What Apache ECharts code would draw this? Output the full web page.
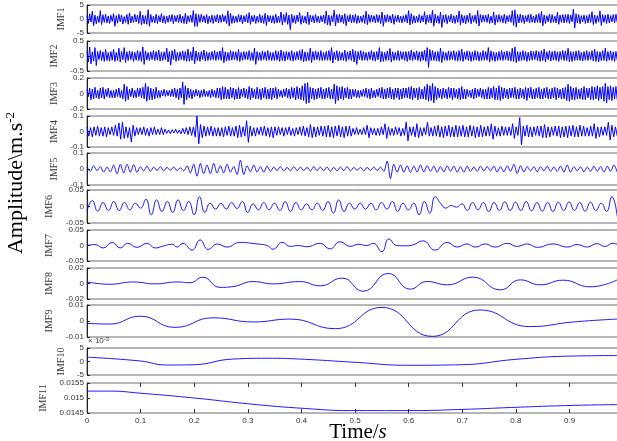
<!DOCTYPE html>
<html>
<head>
<meta charset="utf-8">
<script src="https://cdn.jsdelivr.net/npm/echarts@6/dist/echarts.min.js"></script>
<style>
html, body { margin: 0; padding: 0; background: #fff; }
#chart { width: 617px; height: 441px; }
</style>
</head>
<body>
<div id="chart"></div>
<script>
// ---- data ----
var imfNames = ['IMF1','IMF2','IMF3','IMF4','IMF5','IMF6','IMF7','IMF8','IMF9','IMF10','IMF11'];
var yRanges = [[-5,5],[-0.5,0.5],[-0.2,0.2],[-0.1,0.1],[-0.1,0.1],[-0.05,0.05],[-0.05,0.05],[-0.02,0.02],[-0.01,0.01],[-5,5],[0.0145,0.0155]];
var yTickVals = [[-5,0,5],[-0.5,0,0.5],[-0.2,0,0.2],[-0.1,0,0.1],[-0.1,0,0.1],[-0.05,0,0.05],[-0.05,0,0.05],[-0.02,0,0.02],[-0.01,0,0.01],[-5,0,5],[0.0145,0.015,0.0155]];
var xTicks = [0,0.1,0.2,0.3,0.4,0.5,0.6,0.7,0.8,0.9];
var signalEnd = 0.989;   // last sample seen at the right edge

// dense components, evenly sampled from 0 to signalEnd
var imf1 = [
 1.2,-1.6,1.8,-1.1,2.8,-2.4,1.4,-1.7,1.0,-1.3,3.0,-2.0,1.5,-1.2,1.7,-1.4,1.1,-1.6,1.3,-0.9,
 1.9,-2.6,1.2,-1.5,1.7,-1.0,1.4,-1.8,0.9,-1.2,1.6,-1.9,2.2,-1.4,1.0,-1.2,1.7,-1.1,1.4,-1.6,
 2.7,-2.1,1.4,-1.7,1.2,-1.9,3.3,-2.6,1.6,-1.2,1.0,-1.4,1.7,-1.6,1.2,-1.0,1.9,-1.4,1.2,-1.6,
 1.0,-1.2,1.4,-0.9,1.6,-1.7,1.2,-1.0,1.4,-1.2,1.7,-1.4,1.0,-1.6,2.0,-1.7,1.2,-1.0,1.4,-1.2,
 3.0,-2.7,1.9,-2.6,1.6,-1.2,1.7,-1.0,1.2,-1.4,1.6,-1.7,1.0,-1.2,1.4,-1.6,1.2,-1.0,1.6,-1.4,
 1.4,-1.2,1.7,-1.0,1.2,-1.6,2.9,-2.5,2.0,-1.6,1.2,-1.4,1.0,-1.2,1.6,-1.0,1.4,-1.7,1.2,-1.0,
 1.6,-1.4,2.3,-1.9,1.2,-1.0,1.4,-1.6,1.0,-1.2,1.7,-1.4,1.2,-1.6,2.0,-2.3,1.4,-1.0,1.2,-1.4,
 1.2,-1.6,1.7,-1.4,1.0,-1.2,2.5,-2.1,1.6,-1.2,2.3,-1.9,1.4,-3.8,1.7,-1.4,1.2,-1.6,1.4,-1.0,
 2.3,-1.9,1.2,-1.4,1.0,-1.6,2.5,-2.0,1.4,-1.0,1.2,-1.4,1.6,-1.2,1.0,-1.4,1.2,-1.0,1.4,-1.6,
 2.9,-2.1,1.4,-2.3,1.2,-1.0,3.2,-2.5,1.6,-1.4,1.7,-1.2,1.4,-1.6,1.9,-2.4,1.2,-1.0,1.6,-1.4,
 1.4,-1.2,1.7,-1.6,1.2,-1.4,1.0,-1.2,1.4,-1.6,2.8,-2.0,1.6,-1.2,1.4,-1.0,1.2,-1.4,1.6,-1.2,
 1.4,-1.6,2.5,-2.6,1.4,-1.2,1.6,-1.0,1.2,-1.4,1.7,-1.9,1.2,-1.0,1.4,-1.2,1.0,-1.4,1.2,-1.0,
 1.6,-1.4,3.0,-2.1,1.9,-1.6,1.2,-1.4,1.0,-1.2,1.6,-1.4,1.2,-1.0,2.6,-1.9,1.4,-1.2,1.6,-1.4,
 3.2,-2.6,1.7,-1.4,1.2,-1.6,2.4,-3.0,1.4,-1.2,1.6,-1.7,1.2,-1.0,1.7,-1.4,1.2,-1.6,1.4,-1.2,
 2.9,-2.1,1.6,-1.4,1.2,-1.7,1.4,-1.2,2.1,-1.7,1.2,-1.0,1.4,-1.6,3.0,-2.5,1.6,-1.2,1.4,-1.0,
 1.4,-1.2,1.7,-1.6,1.0,-1.4,2.5,-2.1,1.4,-1.2,1.6,-1.0,1.2,-1.4,1.7,-1.6,1.2,-1.0,1.4,-1.2,
 3.0,-2.3,3.3,-2.9,1.6,-1.4,1.7,-1.2,1.4,-1.6,1.2,-1.0,1.6,-1.4,1.7,-1.2,1.0,-1.4,1.6,-1.2,
 1.9,-1.4,2.8,-2.4,1.4,-1.6,1.2,-1.0,1.7,-1.4,1.6,-1.2,1.0,-1.4,2.5,-1.9,1.4,-1.2,1.6,-1.4,
 1.6,-1.2,1.7,-1.6,1.4,-1.0,3.5,-3.2,1.9,-1.4,1.6,-1.7,1.2,-1.0,1.4,-1.6,1.2,-1.4,1.7,-1.2,
 2.6,-2.0,1.4,-1.6,1.2,-1.0,2.9,-2.3,1.6,-1.2,1.4,-1.6,1.7,-1.4,1.2,-1.0,1.6,-1.4,1.7,-1.2
];
var imf2 = [
 0.15,-0.2,0.3,-0.26,0.14,-0.17,0.28,-0.32,0.15,-0.12,0.18,-0.15,0.14,-0.18,0.22,-0.15,0.12,-0.17,0.15,-0.14,
 0.22,-0.18,0.12,-0.15,0.26,-0.2,0.15,-0.12,0.28,-0.22,0.14,-0.15,0.17,-0.12,0.15,-0.18,0.12,-0.14,0.18,-0.15,
 0.15,-0.18,0.3,-0.28,0.17,-0.14,0.12,-0.15,0.14,-0.12,0.18,-0.15,0.15,-0.14,0.2,-0.17,0.12,-0.15,0.14,-0.12,
 0.26,-0.2,0.15,-0.3,0.18,-0.12,0.22,-0.18,0.12,-0.15,0.14,-0.12,0.17,-0.15,0.15,-0.18,0.23,-0.17,0.14,-0.15,
 0.3,-0.26,0.17,-0.15,0.12,-0.18,0.15,-0.12,0.2,-0.17,0.14,-0.15,0.12,-0.14,0.15,-0.12,0.18,-0.15,0.14,-0.12,
 0.17,-0.15,0.28,-0.23,0.14,-0.17,0.12,-0.15,0.18,-0.14,0.15,-0.12,0.14,-0.15,0.22,-0.18,0.12,-0.14,0.15,-0.12,
 0.14,-0.12,0.18,-0.15,0.12,-0.15,0.26,-0.28,0.15,-0.14,0.12,-0.15,0.17,-0.12,0.14,-0.15,0.18,-0.14,0.12,-0.15,
 0.12,-0.15,0.18,-0.14,0.15,-0.18,0.2,-0.15,0.14,-0.17,0.15,-0.12,0.14,-0.15,0.18,-0.17,0.12,-0.14,0.15,-0.12,
 0.18,-0.15,0.22,-0.2,0.14,-0.17,0.12,-0.15,0.26,-0.22,0.15,-0.14,0.17,-0.12,0.14,-0.15,0.18,-0.15,0.12,-0.14,
 0.15,-0.14,0.18,-0.15,0.28,-0.23,0.14,-0.12,0.18,-0.17,0.15,-0.14,0.12,-0.15,0.2,-0.18,0.14,-0.12,0.17,-0.15,
 0.22,-0.2,0.17,-0.28,0.15,-0.12,0.18,-0.15,0.15,-0.14,0.12,-0.15,0.14,-0.12,0.18,-0.15,0.14,-0.17,0.15,-0.12,
 0.28,-0.2,0.15,-0.18,0.12,-0.15,0.17,-0.14,0.25,-0.2,0.14,-0.15,0.12,-0.14,0.18,-0.15,0.15,-0.12,0.14,-0.15,
 0.15,-0.18,0.15,-0.14,0.2,-0.15,0.14,-0.12,0.17,-0.15,0.14,-0.18,0.15,-0.14,0.2,-0.18,0.28,-0.38,0.22,-0.15,
 0.18,-0.15,0.14,-0.17,0.15,-0.18,0.26,-0.22,0.15,-0.14,0.12,-0.15,0.17,-0.14,0.15,-0.12,0.18,-0.15,0.14,-0.17,
 0.18,-0.15,0.23,-0.18,0.14,-0.12,0.17,-0.15,0.15,-0.18,0.14,-0.15,0.18,-0.14,0.15,-0.17,0.12,-0.15,0.18,-0.14,
 0.15,-0.14,0.28,-0.2,0.17,-0.15,0.14,-0.18,0.12,-0.15,0.15,-0.14,0.18,-0.15,0.14,-0.12,0.17,-0.15,0.14,-0.17,
 0.26,-0.18,0.3,-0.22,0.15,-0.17,0.14,-0.15,0.18,-0.14,0.15,-0.18,0.12,-0.15,0.17,-0.14,0.15,-0.12,0.18,-0.15,
 0.15,-0.18,0.18,-0.15,0.23,-0.2,0.14,-0.12,0.18,-0.17,0.15,-0.14,0.17,-0.15,0.14,-0.18,0.15,-0.12,0.18,-0.15,
 0.17,-0.15,0.26,-0.2,0.15,-0.18,0.14,-0.15,0.17,-0.14,0.18,-0.15,0.12,-0.17,0.15,-0.14,0.18,-0.15,0.14,-0.12,
 0.18,-0.17,0.23,-0.18,0.15,-0.2,0.14,-0.15,0.18,-0.15,0.26,-0.18,0.15,-0.14,0.17,-0.15,0.14,-0.18,0.15,-0.14
];
var imf3 = [
 0.055,-0.04,0.07,-0.08,0.055,-0.07,0.08,-0.055,0.04,-0.07,0.07,-0.055,0.08,-0.07,0.055,-0.04,0.07,-0.055,0.04,-0.055,
 0.04,-0.055,0.055,-0.04,0.07,-0.055,0.04,-0.07,0.12,-0.1,0.09,-0.08,0.055,-0.04,0.07,-0.055,0.04,-0.055,0.07,-0.04,
 0.07,-0.055,0.08,-0.07,0.13,-0.1,0.09,-0.08,0.07,-0.08,0.055,-0.07,0.08,-0.055,0.04,-0.055,0.04,-0.03,0.055,-0.04,
 0.04,-0.03,0.04,-0.04,0.055,-0.04,0.07,-0.055,0.055,-0.08,0.07,-0.055,0.15,-0.14,0.1,-0.08,0.07,-0.055,0.055,-0.07,
 0.04,-0.04,0.055,-0.03,0.04,-0.055,0.04,-0.04,0.055,-0.04,0.03,-0.04,0.04,-0.055,0.055,-0.04,0.04,-0.055,0.07,-0.055,
 0.07,-0.08,0.09,-0.07,0.08,-0.07,0.055,-0.07,0.08,-0.055,0.07,-0.08,0.055,-0.07,0.08,-0.07,0.055,-0.04,0.07,-0.055,
 0.055,-0.07,0.09,-0.08,0.07,-0.055,0.055,-0.07,0.08,-0.07,0.055,-0.08,0.07,-0.055,0.08,-0.07,0.055,-0.07,0.07,-0.08,
 0.07,-0.055,0.08,-0.07,0.055,-0.04,0.04,-0.055,0.055,-0.04,0.07,-0.055,0.055,-0.07,0.08,-0.055,0.07,-0.08,0.09,-0.07,
 0.07,-0.08,0.1,-0.09,0.13,-0.13,0.14,-0.12,0.08,-0.07,0.07,-0.08,0.055,-0.07,0.07,-0.055,0.08,-0.07,0.055,-0.07,
 0.07,-0.055,0.08,-0.07,0.055,-0.07,0.12,-0.13,0.1,-0.09,0.08,-0.07,0.09,-0.08,0.07,-0.055,0.08,-0.07,0.055,-0.07,
 0.055,-0.04,0.055,-0.055,0.04,-0.055,0.04,-0.04,0.055,-0.04,0.07,-0.055,0.055,-0.07,0.07,-0.055,0.04,-0.055,0.055,-0.04,
 0.07,-0.055,0.08,-0.07,0.055,-0.07,0.07,-0.055,0.08,-0.07,0.055,-0.08,0.07,-0.055,0.07,-0.08,0.055,-0.07,0.07,-0.055,
 0.07,-0.055,0.08,-0.07,0.09,-0.08,0.07,-0.055,0.07,-0.08,0.08,-0.07,0.055,-0.07,0.09,-0.08,0.12,-0.1,0.1,-0.09,
 0.13,-0.12,0.09,-0.08,0.07,-0.055,0.055,-0.07,0.07,-0.055,0.055,-0.07,0.08,-0.055,0.07,-0.08,0.07,-0.055,0.055,-0.07,
 0.07,-0.08,0.09,-0.07,0.055,-0.07,0.055,-0.04,0.04,-0.055,0.055,-0.07,0.07,-0.055,0.055,-0.04,0.07,-0.055,0.055,-0.07,
 0.055,-0.07,0.08,-0.07,0.07,-0.055,0.09,-0.08,0.07,-0.08,0.1,-0.09,0.08,-0.07,0.07,-0.055,0.055,-0.07,0.07,-0.055,
 0.07,-0.055,0.08,-0.07,0.055,-0.07,0.07,-0.055,0.055,-0.07,0.08,-0.09,0.07,-0.055,0.08,-0.07,0.055,-0.07,0.07,-0.055,
 0.08,-0.07,0.055,-0.07,0.07,-0.055,0.08,-0.07,0.055,-0.07,0.07,-0.055,0.08,-0.08,0.07,-0.055,0.055,-0.07,0.07,-0.07,
 0.08,-0.09,0.12,-0.1,0.09,-0.08,0.07,-0.08,0.08,-0.07,0.055,-0.07,0.07,-0.08,0.09,-0.08,0.07,-0.055,0.07,-0.08,
 0.09,-0.08,0.08,-0.07,0.1,-0.09,0.08,-0.07,0.09,-0.1,0.13,-0.12,0.09,-0.08,0.1,-0.09,0.08,-0.07,0.09,-0.08
];
var imf4 = [
 0.03,-0.03,0.025,-0.035,0.03,-0.025,0.035,-0.03,0.025,-0.03,0.03,-0.035,0.025,-0.02,0.03,
 -0.025,0.04,-0.03,0.055,-0.05,0.06,-0.045,0.03,-0.04,0.025,-0.068,0.04,-0.03,0.025,-0.02,
 0.025,-0.02,0.03,-0.025,0.02,-0.03,0.025,-0.02,0.03,-0.02,0.015,-0.02,0.025,-0.02,0.015,
 -0.012,0.01,-0.015,0.012,-0.01,0.015,-0.012,0.01,-0.015,0.02,-0.015,0.025,-0.02,0.03,-0.025,
 0.03,-0.035,0.1,-0.08,0.045,-0.04,0.035,-0.03,0.03,-0.025,0.035,-0.03,0.025,-0.03,0.025,
 -0.03,0.025,-0.035,0.03,-0.025,0.035,-0.03,0.025,-0.03,0.035,-0.04,0.04,-0.035,0.03,-0.03,
 0.07,-0.07,0.035,-0.03,0.025,-0.03,0.025,-0.02,0.03,-0.025,0.035,-0.03,0.025,-0.035,0.03,
 -0.04,0.03,-0.025,0.03,-0.02,0.025,-0.03,0.025,-0.02,0.03,-0.025,0.02,-0.03,0.025,-0.02,
 0.03,-0.025,0.035,-0.03,0.025,-0.035,0.045,-0.04,0.03,-0.035,0.03,-0.025,0.035,-0.03,0.035,
 -0.035,0.04,-0.035,0.03,-0.04,0.035,-0.03,0.04,-0.035,0.03,-0.04,0.035,-0.03,0.035,-0.03,
 0.02,-0.02,0.025,-0.02,0.015,-0.02,0.025,-0.02,0.04,-0.04,0.025,-0.02,0.02,-0.025,0.02,
 -0.025,0.03,-0.02,0.05,-0.045,0.03,-0.025,0.02,-0.025,0.03,-0.02,0.025,-0.03,0.02,-0.025,
 0.06,-0.06,0.03,-0.025,0.03,-0.035,0.05,-0.04,0.025,-0.03,0.025,-0.02,0.06,-0.03,0.025,
 -0.03,0.035,-0.03,0.04,-0.035,0.03,-0.04,0.035,-0.03,0.04,-0.035,0.03,-0.035,0.04,-0.035,
 0.035,-0.03,0.04,-0.035,0.03,-0.035,0.04,-0.03,0.035,-0.04,0.03,-0.035,0.04,-0.035,0.03,
 -0.03,0.035,-0.03,0.05,-0.05,0.035,-0.03,0.025,-0.03,0.035,-0.025,0.03,-0.025,0.03,-0.025,
 0.05,-0.045,0.03,-0.025,0.09,-0.085,0.035,-0.03,0.04,-0.035,0.03,-0.035,0.03,-0.025,0.035,
 -0.03,0.035,-0.04,0.045,-0.04,0.03,-0.035,0.03,-0.025,0.035,-0.03,0.035,-0.04,0.03,-0.035,
 0.035,-0.04,0.035,-0.03,0.04,-0.035,0.03,-0.035,0.04,-0.03,0.035,-0.03,0.025,-0.03,0.035,
 -0.03,0.05,-0.045,0.03,-0.035,0.03,-0.025,0.03,-0.025,0.06,-0.055,0.04,-0.035,0.03,-0.03
];
var imf5 = [
 0.01,-0.015,0.02,-0.01,0.015,-0.02,0.012,-0.018, 0.025,-0.03,0.03,-0.025,0.03,-0.02,0.028,-0.022,
 0.015,-0.012,0.018,-0.015,0.012,-0.01,0.015,-0.012, 0.01,-0.008,0.012,-0.01,0.008,-0.012,0.02,-0.025,
 0.03,-0.045,0.035,-0.03,0.025,-0.03,0.035,-0.025, 0.02,-0.025,0.03,-0.02,0.015,-0.035,0.055,-0.035,
 0.02,-0.018,0.025,-0.02,0.015,-0.02,0.018,-0.015, 0.012,-0.01,0.015,-0.012,0.01,-0.012,0.015,-0.01,
 0.012,-0.01,0.01,-0.012,0.015,-0.01,0.012,-0.01, 0.012,-0.015,0.01,-0.012,0.012,-0.01,0.015,-0.012,
 0.01,-0.008,0.01,-0.012,0.01,-0.01,0.012,-0.01, 0.012,-0.015,0.05,-0.06,0.03,-0.02,0.025,-0.02,
 0.02,-0.022,0.018,-0.02,0.025,-0.018,0.02,-0.015, 0.018,-0.02,0.015,-0.018,0.02,-0.015,0.018,-0.02,
 0.015,-0.02,0.018,-0.015,0.012,-0.015,0.018,-0.012, 0.015,-0.012,0.018,-0.02,0.015,-0.018,0.02,-0.015,
 0.03,-0.028,0.02,-0.018,0.015,-0.012,0.015,-0.018, 0.015,-0.012,0.018,-0.015,0.012,-0.015,0.018,-0.02,
 0.025,-0.02,0.015,-0.012,0.015,-0.018,0.012,-0.015, 0.018,-0.015,0.015,-0.02,0.018,-0.015,0.025,-0.02
];
var imf6 = [
 -0.013,0.018,-0.014,0.012,-0.012, 0.015,-0.012,0.012,-0.01,0.01, -0.005,0.022,-0.025,0.02,-0.015, 0.015,-0.018,0.02,-0.012,0.015,
 -0.025,0.03,-0.018,0.01,-0.008, 0.01,-0.008,0.012,-0.006,0.015, -0.018,0.008,-0.01,0.012,-0.01, 0.01,-0.012,0.015,-0.015,0.012,
 -0.01,0.008,-0.01,0.01,-0.012, 0.015,-0.02,0.02,-0.015,0.01, -0.008,0.01,-0.008,0.01,-0.01, 0.012,-0.008,0.015,-0.015,0.01,
 -0.01,0.01,-0.025,0.015,-0.02, 0.03,0.01,-0.005,0.003,-0.002, 0.008,-0.012,0.012,-0.01,0.012, -0.015,0.012,-0.012,0.014,-0.012,
 0.013,-0.012,0.015,-0.013,0.012, -0.014,0.012,-0.015,0.013,-0.012, 0.014,-0.012,0.012,-0.014,0.013, -0.012,0.01,-0.015,0.03,-0.03
];

// slower components: time of each turning point and its value
var imf7T = [0,0.015,0.030,0.047,0.062,0.076,0.093,0.112,0.127,0.142,0.159,0.168,0.179,0.196,0.211,0.226,0.243,0.261,0.285,0.317,0.336,0.347,0.364,0.379,0.394,0.410,0.435,0.453,0.472,0.491,0.506,0.522,0.534,0.550,0.563,0.578,0.597,0.608,0.627,0.649,0.672,0.690,0.709,0.724,0.743,0.761,0.784,0.802,0.821,0.840,0.869,0.896,0.914,0.933,0.951,0.966,0.981,0.989];
var imf7V = [0,0.003,-0.008,0.01,-0.008,0.007,-0.006,0.007,-0.008,-0.002,0.004,-0.005,0.007,-0.015,0.018,-0.013,0.005,-0.005,0.01,0.005,0,-0.012,0.01,-0.003,0,-0.004,0.007,-0.011,0.012,-0.003,0.004,0,0.007,-0.02,0.021,0,-0.001,0.002,0.015,-0.015,0.01,-0.005,0.005,-0.005,0.005,-0.005,0.007,-0.003,0.005,-0.006,0.005,-0.005,0.003,-0.005,0.006,-0.003,0.007,0.004];
var imf8T = [0,0.043,0.086,0.127,0.168,0.192,0.216,0.248,0.272,0.310,0.347,0.397,0.435,0.476,0.515,0.562,0.603,0.634,0.672,0.720,0.771,0.808,0.845,0.888,0.938,0.989];
var imf8V = [0.002,-0.001,0.002,-0.0005,0.002,0.001,0.008,-0.005,-0.004,0.0025,-0.0005,0.0025,-0.003,0.007,-0.01,0.013,-0.0073,0.0026,-0.0017,0.0082,-0.0082,0.0047,-0.0017,0.0043,-0.0043,0.0047];
var imf9T = [0,0.043,0.099,0.164,0.235,0.310,0.379,0.463,0.550,0.644,0.733,0.826,0.907,0.989];
var imf9V = [-0.0015,-0.0019,0.003,-0.004,0.002,-0.0006,0.0012,-0.0048,0.0085,-0.0096,0.0069,-0.0035,-0.0006,0.0012];
var imf10T = [0,0.099,0.149,0.198,0.272,0.336,0.397,0.5,0.601,0.696,0.800,0.901,0.989];
var imf10V = [1.6,0.2,-1.3,-1.2,0.9,1.2,0.9,-0.3,-1.4,-1.2,0.8,2.0,2.2];   // x 10^-3
var imf11T = [0,0.043,0.099,0.2,0.299,0.399,0.5,0.601,0.7,0.800,0.899,0.989];
var imf11V = [0.01523,0.01523,0.01516,0.0150,0.01481,0.01466,0.01458,0.01458,0.01462,0.01469,0.01475,0.01478];

// ---- layout ----
var panels = [[5,28],[41,30],[78,31],[116,31],[153,32],[190,33],[230,31],[268,31],[305,32],[348,27],[383,30]];
var plotLeft = 87, plotRight = -4;
var xMax = 0.996;

function evenly(vals) {
    var out = [];
    for (var i = 0; i < vals.length; i++) {
        out.push([i * signalEnd / (vals.length - 1), vals[i]]);
    }
    return out;
}
function paired(ts, vs) {
    var out = [];
    for (var i = 0; i < ts.length; i++) out.push([ts[i], vs[i]]);
    return out;
}

var seriesData = [
    {d: evenly(imf1), smooth: false, w: 1},
    {d: evenly(imf2), smooth: false, w: 1},
    {d: evenly(imf3), smooth: false, w: 1},
    {d: evenly(imf4), smooth: false, w: 1},
    {d: evenly(imf5), smooth: 0.3, w: 0.9},
    {d: evenly(imf6), smooth: 0.5, w: 0.9},
    {d: paired(imf7T, imf7V), smooth: 0.5, w: 0.9},
    {d: paired(imf8T, imf8V), smooth: 0.5, w: 0.9},
    {d: paired(imf9T, imf9V), smooth: 0.5, w: 0.9},
    {d: paired(imf10T, imf10V), smooth: 0.5, w: 0.9},
    {d: paired(imf11T, imf11V), smooth: 0.5, w: 0.9}
];

var grids = [], xAxes = [], yAxes = [], series = [];
for (var i = 0; i < panels.length; i++) {
    var last = (i == panels.length - 1);
    grids.push({
        left: plotLeft, right: plotRight, top: panels[i][0], height: panels[i][1],
        outerBoundsMode: 'none', containLabel: false,
        show: true, borderColor: '#6a6a6a', borderWidth: 1, backgroundColor: 'transparent'
    });
    xAxes.push({
        type: 'value', gridIndex: i, min: 0, max: xMax, interval: 0.1,
        axisLine: {show: false},
        axisTick: {show: last, inside: true, length: 4, lineStyle: {color: '#333'}, customValues: xTicks},
        axisLabel: {show: last, customValues: xTicks, fontSize: 8, color: '#333',
            fontFamily: 'Liberation Sans', margin: 4},
        splitLine: {show: false}
    });
    yAxes.push({
        type: 'value', gridIndex: i, min: yRanges[i][0], max: yRanges[i][1],
        name: imfNames[i], nameLocation: 'middle', nameGap: 20, nameRotate: 90,
        nameTextStyle: {fontFamily: 'Liberation Serif', fontSize: 10, color: '#333'},
        axisLine: {show: true, lineStyle: {color: '#222', width: 1}},
        axisTick: {show: true, inside: true, length: 3, lineStyle: {color: '#222'}, customValues: yTickVals[i]},
        axisLabel: {customValues: yTickVals[i], fontSize: 8, color: '#333', fontFamily: 'Liberation Sans', margin: 3},
        splitLine: {show: false}
    });
    series.push({
        type: 'line', xAxisIndex: i, yAxisIndex: i, data: seriesData[i].d,
        smooth: seriesData[i].smooth,
        showSymbol: false, symbol: 'none', silent: true,
        lineStyle: {color: '#0000ff', width: seriesData[i].w}
    });
}
// ticks along the top edge of the last panel
xAxes.push({
    type: 'value', gridIndex: panels.length - 1, position: 'top', min: 0, max: xMax, interval: 0.1,
    axisLine: {show: false},
    axisTick: {show: true, inside: true, length: 4, lineStyle: {color: '#333'}, customValues: xTicks},
    axisLabel: {show: false}, splitLine: {show: false}
});

var myChart = echarts.init(document.getElementById('chart'), null, {renderer: 'canvas'});
var option = {
    animation: false,
    backgroundColor: '#fff',
    grid: grids,
    xAxis: xAxes,
    yAxis: yAxes,
    series: series,
    graphic: [
        {
            type: 'text', x: 16, y: 183, rotation: Math.PI / 2,
            style: {
                text: '{a|Amplitude\\m.s}{b|-2}',
                align: 'center', verticalAlign: 'middle',
                rich: {
                    a: {fontFamily: 'Liberation Serif', fontSize: 22, fill: '#000', lineHeight: 24},
                    b: {fontFamily: 'Liberation Serif', fontSize: 13, fill: '#000', verticalAlign: 'top', lineHeight: 14}
                }
            }
        },
        {
            type: 'text', x: 358, y: 432,
            style: {
                text: '{a|Time/}{b|s}',
                align: 'center', verticalAlign: 'middle',
                rich: {
                    a: {fontFamily: 'Liberation Serif', fontSize: 21, fill: '#000'},
                    b: {fontFamily: 'Liberation Serif', fontSize: 21, fontStyle: 'italic', fill: '#000'}
                }
            }
        },
        {
            type: 'text', x: 88, y: 341,
            style: {
                text: '{a|\u00d7 10}{b|-3}',
                align: 'left', verticalAlign: 'middle',
                rich: {
                    a: {fontFamily: 'Liberation Sans', fontSize: 8, fill: '#333', lineHeight: 10},
                    b: {fontFamily: 'Liberation Sans', fontSize: 6, fill: '#333', verticalAlign: 'top', lineHeight: 7}
                }
            }
        }
    ]
};
myChart.setOption(option);
</script>
</body>
</html>
